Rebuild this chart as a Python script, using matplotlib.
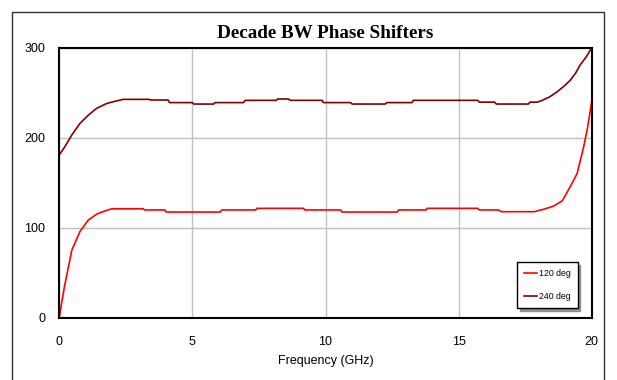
import matplotlib
matplotlib.use('Agg')
from matplotlib import pyplot as plt
from matplotlib.patches import Rectangle

# 120 deg shifter (GHz, degrees)
freq_120 = [0, 0.08, 0.19, 0.47, 0.78, 1.09, 1.4, 1.7, 1.97, 3.16, 3.2, 3.97, 4.02, 6.05, 6.1,
            7.38, 7.42, 9.18, 9.22, 10.58, 10.62, 12.7, 12.75, 13.78, 13.82, 15.72, 15.78,
            16.5, 16.6, 17.85, 18.0, 18.26, 18.57, 18.9, 19.2, 19.45, 19.7, 19.85, 20]
phase_120 = [0, 15, 34, 75, 96, 108.5, 115, 118.5, 121, 121, 119.7, 119.7, 117.4, 117.4, 119.7,
             119.7, 121.5, 121.5, 119.7, 119.7, 117.4, 117.4, 119.7, 119.7, 121.5, 121.5, 119.7,
             119.7, 117.8, 117.8, 119, 121, 124, 130, 146, 160, 190, 212, 240]

# 240 deg shifter
freq_240 = [0, 0.05, 0.21, 0.47, 0.78, 1.09, 1.4, 1.78, 2.1, 2.4, 3.38, 3.42, 4.09, 4.14, 5.0,
            5.05, 5.8, 5.85, 6.92, 6.98, 8.15, 8.2, 8.62, 8.67, 9.87, 9.92, 10.95, 11.0, 12.25,
            12.3, 13.25, 13.3, 15.72, 15.78, 16.35, 16.42, 17.62, 17.68, 17.95, 18.1, 18.4,
            18.7, 18.95, 19.2, 19.4, 19.57, 19.8, 20]
phase_240 = [180.8, 183, 190, 203, 216, 225, 232.6, 238, 240.5, 242.6, 242.6, 241.9, 241.9, 239,
             239, 237.4, 237.4, 239, 239, 241.5, 241.5, 243, 243, 241.5, 241.5, 239, 239, 237.4,
             237.4, 239, 239, 241.5, 241.5, 239.5, 239.5, 237.4, 237.4, 239.5, 239.5, 241, 245,
             251, 257, 264, 272, 281, 290, 300]

x_ticks = [0, 5, 10, 15, 20]
y_ticks = [0, 100, 200, 300]

plt.rcParams['font.family'] = ['Liberation Sans', 'DejaVu Sans']

fig = plt.figure(figsize=(6.17, 3.8), dpi=100)
# outer chart frame
fig.patches.append(Rectangle((12/617, -0.1), 592/617, 1.1 - 12/380, transform=fig.transFigure,
                             fill=False, edgecolor='#303030', linewidth=1.0))

ax = fig.add_axes([59.3/617, 1 - 317.7/380, (591.7 - 59.3)/617, (317.7 - 47.7)/380])
ax.plot(freq_120, phase_120, color='#FF0000', linewidth=1.2, label='120 deg')
ax.plot(freq_240, phase_240, color='#800000', linewidth=1.2, label='240 deg')

ax.set_xlim(0, 20)
ax.set_ylim(0, 300)
ax.set_xticks(x_ticks)
ax.set_yticks(y_ticks)
ax.grid(True, color='#C0C0C0', linewidth=1.0)
ax.set_axisbelow(True)
ax.tick_params(length=0, labelsize=9)
ax.tick_params(axis='x', pad=13)
ax.tick_params(axis='y', pad=10)
for s in ax.spines.values():
    s.set_linewidth(1.5)
    s.set_color('black')
ax.set_xlabel('Frequency (GHz)', fontsize=9, labelpad=5)

fig.text(325/617, 1 - 34/380, 'Decade BW Phase Shifters', ha='center', va='center',
         fontsize=13.8, fontweight='bold', family='Liberation Serif')

leg = ax.legend(loc='upper left', bbox_to_anchor=(517/617, 1 - 262/380),
                bbox_transform=fig.transFigure, fontsize=6.3, frameon=True, fancybox=False,
                shadow={'color': '#909090', 'alpha': 1.0}, handlelength=1.5, handletextpad=0.3,
                labelspacing=1.7, borderpad=0.75, borderaxespad=0)
leg.get_frame().set_edgecolor('black')
leg.get_frame().set_linewidth(1.0)

plt.savefig('out.png', dpi=100)
